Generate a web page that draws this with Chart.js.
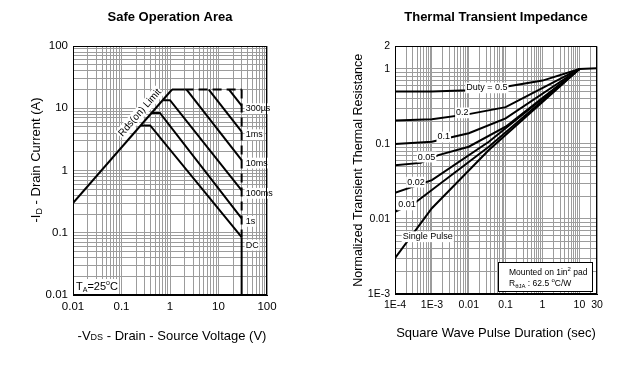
<!DOCTYPE html>
<html>
<head>
<meta charset="utf-8">
<script src="https://cdn.jsdelivr.net/npm/chart.js@4"></script>
<style>
  html, body { margin: 0; padding: 0; background: #fff; }
  #wrap { position: relative; width: 618px; height: 377px; }
  #soaChart { position: absolute; left: 0; top: 0; }
  #zthChart { position: absolute; left: 310px; top: 0; }
</style>
</head>
<body>
<div id="wrap">
  <canvas id="soaChart" width="310" height="377"></canvas>
  <canvas id="zthChart" width="308" height="377"></canvas>
</div>
<script>
// Safe operation area: [-VDS (V), -ID (A)]
const rdsLimit = [[0.01, 0.3], [1.1, 20]];
const pulseTop = [[1.1, 20], [2.0, 20]];
const pulseTopDashed = [[2.0, 20], [30, 20]];
const vdsMaxDashed = [[30, 20], [30, 0.085]];
const vdsMax = [[30, 0.085], [30, 0.01]];
const line300us = [[16.5, 20], [30, 11]];
const line1ms = [[6.3, 20], [30, 4.2]];
const line10ms = [[2.2, 20], [30, 1.47]];
const line100ms = [[0.72, 13.5], [1.0, 13.5], [30, 0.48]];
const line1s = [[0.42, 8.4], [0.62, 8.4], [30, 0.17]];
const lineDC = [[0.25, 5.3], [0.39, 5.3], [30, 0.085]];
const soaLabels = ['300µs', '1ms', '10ms', '100ms', '1s', 'DC'];
const vdsTicks = [0.01, 0.1, 1, 10, 100];
const vdsTickLabels = ['0.01', '0.1', '1', '10', '100'];
const idTicks = [0.01, 0.1, 1, 10, 100];
const idTickLabels = ['0.01', '0.1', '1', '10', '100'];

// Thermal transient impedance: [pulse duration (s), normalized Zth]
const duty05 = [[1e-4, 0.5], [1e-3, 0.5], [0.01, 0.52], [0.1, 0.58], [1, 0.7], [10, 1], [30, 1.02]];
const duty02 = [[1e-4, 0.205], [1e-3, 0.213], [0.01, 0.25], [0.1, 0.31], [10, 1]];
const duty01 = [[1e-4, 0.1], [1e-3, 0.107], [0.01, 0.139], [0.1, 0.22], [10, 1]];
const duty005 = [[1e-4, 0.052], [5e-4, 0.056], [1.5e-3, 0.071], [0.01, 0.092], [0.1, 0.17], [10, 1]];
const duty002 = [[1e-4, 0.0224], [1e-3, 0.033], [0.035, 0.107], [10, 1]];
const duty001 = [[1e-4, 0.0125], [3.8e-4, 0.017], [0.035, 0.092], [10, 1]];
const singlePulse = [[1e-4, 0.003], [1e-3, 0.0139], [0.035, 0.083], [10, 1]];
const dutyLabels = ['Duty = 0.5', '0.2', '0.1', '0.05', '0.02', '0.01', 'Single Pulse'];
const timeTicks = [1e-4, 1e-3, 0.01, 0.1, 1, 10, 30];
const timeTickLabels = ['1E-4', '1E-3', '0.01', '0.1', '1', '10', '30'];
const zthTicks = [0.001, 0.01, 0.1, 1, 2];
const zthTickLabels = ['1E-3', '0.01', '0.1', '1', '2'];

const FONT = '"Liberation Sans", Arial, Helvetica, sans-serif';
Chart.defaults.font.family = FONT;
Chart.defaults.color = '#000';

function curve(pairs, dashed) {
  return {
    data: pairs.map(([x, y]) => ({ x, y })),
    borderColor: '#000',
    borderWidth: 2,
    borderDash: dashed ? [9, 5] : [],
    pointRadius: 0,
    fill: false,
    tension: 0
  };
}

// every 1..9 x 10^n between min and max, so the grid gets all minor lines
function logGrid(min, max) {
  const out = [];
  for (let e = Math.floor(Math.log10(min)); e <= Math.ceil(Math.log10(max)); e++) {
    for (let m = 1; m < 10; m++) {
      const v = +(m * Math.pow(10, e)).toPrecision(6);
      if (v >= min * 0.999 && v <= max * 1.001) out.push({ value: v });
    }
  }
  return out;
}

function pickLabel(values, texts) {
  return (v) => {
    const i = values.findIndex(t => Math.abs(t - v) <= t * 1e-6);
    return i < 0 ? '' : texts[i];
  };
}

function logAxis(min, max, values, texts, size, title, fit) {
  return {
    type: 'logarithmic',
    min: min,
    max: max,
    afterBuildTicks: (scale) => { scale.ticks = logGrid(min, max); },
    afterFit: fit,
    ticks: {
      autoSkip: false, maxRotation: 0, minRotation: 0, padding: 5,
      font: { size: size }, color: '#000',
      callback: pickLabel(values, texts)
    },
    grid: { color: '#9c9c9c', lineWidth: 1, drawTicks: false },
    border: { display: true, color: '#000', width: 1 },
    title: title
  };
}

function tag(ctx, text, x, y, size, align) {
  ctx.save();
  ctx.font = size + 'px ' + FONT;
  const w = ctx.measureText(text).width;
  const left = align === 'left' ? x : x - w / 2;
  ctx.fillStyle = '#fff';
  ctx.fillRect(left - 1, y - size * 0.6, w + 2, size * 1.2);
  ctx.fillStyle = '#000';
  ctx.textAlign = 'left';
  ctx.textBaseline = 'middle';
  ctx.fillText(text, left, y);
  ctx.restore();
}

// text made of [string, size, baseline shift] pieces, centred on (cx, cy)
function richText(ctx, parts, cx, cy, rotation) {
  ctx.save();
  ctx.translate(cx, cy);
  ctx.rotate(rotation);
  let w = 0;
  parts.forEach(([s, size]) => { ctx.font = size + 'px ' + FONT; w += ctx.measureText(s).width; });
  let tx = -w / 2;
  ctx.fillStyle = '#000';
  ctx.textBaseline = 'alphabetic';
  parts.forEach(([s, size, shift]) => {
    ctx.font = size + 'px ' + FONT;
    ctx.fillText(s, tx, 4.5 + shift);
    tx += ctx.measureText(s).width;
  });
  ctx.restore();
}

const framePlugin = {
  id: 'frame',
  afterDraw(chart) {
    const { ctx, chartArea: a } = chart;
    ctx.save();
    ctx.strokeStyle = '#000';
    ctx.lineWidth = 1;
    ctx.strokeRect(Math.round(a.left) + 0.5, Math.round(a.top) + 0.5,
      Math.round(a.right - a.left) - 1, Math.round(a.bottom - a.top) - 1);
    ctx.restore();
  }
};

const soaNotes = {
  id: 'soaNotes',
  afterDatasetsDraw(chart) {
    const { ctx, chartArea: a, scales: { x, y } } = chart;
    const ends = [line300us, line1ms, line10ms, line100ms, line1s, lineDC];
    ends.forEach((pts, i) => {
      const [vx, vy] = pts[pts.length - 1];
      const px = x.getPixelForValue(vx) + 4;
      const py = y.getPixelForValue(vy) + (i === ends.length - 1 ? 8 : 3);
      tag(ctx, soaLabels[i], px, py, 9, 'left');
    });

    // Rds(on) label laid along the limit line
    const x0 = x.getPixelForValue(rdsLimit[0][0]), y0 = y.getPixelForValue(rdsLimit[0][1]);
    const x1 = x.getPixelForValue(rdsLimit[1][0]), y1 = y.getPixelForValue(rdsLimit[1][1]);
    const ang = Math.atan2(y1 - y0, x1 - x0);
    const cx = x.getPixelForValue(0.33);
    const cy = y0 + (cx - x0) * (y1 - y0) / (x1 - x0);
    ctx.save();
    ctx.translate(cx + Math.sin(ang) * 9, cy - Math.cos(ang) * 9);
    ctx.rotate(ang);
    tag(ctx, 'Rds(on) Limit', 0, 0, 10, 'center');
    ctx.restore();

    // TA = 25°C
    ctx.save();
    ctx.fillStyle = '#fff';
    ctx.fillRect(a.left + 1, a.bottom - 16, 44, 15);
    ctx.fillStyle = '#000';
    ctx.textBaseline = 'alphabetic';
    let tx = a.left + 3;
    const ty = a.bottom - 5;
    ctx.font = '11px ' + FONT;
    ctx.fillText('T', tx, ty); tx += ctx.measureText('T').width;
    ctx.font = '7px ' + FONT;
    ctx.fillText('A', tx, ty + 2); tx += ctx.measureText('A').width;
    ctx.font = '11px ' + FONT;
    ctx.fillText('=25', tx, ty); tx += ctx.measureText('=25').width;
    ctx.font = '7px ' + FONT;
    ctx.fillText('o', tx, ty - 5); tx += ctx.measureText('o').width;
    ctx.font = '11px ' + FONT;
    ctx.fillText('C', tx, ty);
    ctx.restore();
  },
  afterDraw(chart) {
    const { ctx, chartArea: a } = chart;
    // axis titles with subscripts
    richText(ctx, [['-V', 13, 0], ['DS', 9, 0], [' - Drain - Source Voltage (V)', 13, 0]],
      (a.left + a.right) / 2 + 2, 335, 0);
    richText(ctx, [['-I', 13, 0], ['D', 9, 2], [' - Drain Current (A)', 13, 0]],
      35, 160, -Math.PI / 2);
  }
};

const zthNotes = {
  id: 'zthNotes',
  afterDatasetsDraw(chart) {
    const { ctx, chartArea: a, scales: { x, y } } = chart;
    const at = [[0.031, 0.56], [0.0067, 0.26], [0.0021, 0.124], [7.2e-4, 0.067],
                [3.7e-4, 0.031], [2.1e-4, 0.0154], [7.7e-4, 0.0058]];
    at.forEach(([t, z], i) => {
      tag(ctx, dutyLabels[i], x.getPixelForValue(t), y.getPixelForValue(z), 9, 'center');
    });

    // mounting note box
    const bx = a.right - 99, by = a.bottom - 32, bw = 94, bh = 29;
    ctx.save();
    ctx.fillStyle = '#fff';
    ctx.fillRect(bx, by, bw, bh);
    ctx.strokeStyle = '#000';
    ctx.lineWidth = 1;
    ctx.strokeRect(Math.round(bx) + 0.5, Math.round(by) + 0.5, bw, bh);
    ctx.fillStyle = '#000';
    ctx.textBaseline = 'alphabetic';
    let tx = bx + 11;
    let ty = by + 13;
    ctx.font = '8.5px ' + FONT;
    ctx.fillText('Mounted on 1in', tx, ty); tx += ctx.measureText('Mounted on 1in').width;
    ctx.font = '6px ' + FONT;
    ctx.fillText('2', tx, ty - 4); tx += ctx.measureText('2').width;
    ctx.font = '8.5px ' + FONT;
    ctx.fillText(' pad', tx, ty);
    tx = bx + 11;
    ty = by + 24;
    ctx.fillText('R', tx, ty); tx += ctx.measureText('R').width;
    ctx.font = '6px ' + FONT;
    ctx.fillText('θJA', tx, ty + 2); tx += ctx.measureText('θJA').width;
    ctx.font = '8.5px ' + FONT;
    ctx.fillText(' : 62.5 ', tx, ty); tx += ctx.measureText(' : 62.5 ').width;
    ctx.font = '6px ' + FONT;
    ctx.fillText('o', tx, ty - 4); tx += ctx.measureText('o').width;
    ctx.font = '8.5px ' + FONT;
    ctx.fillText('C/W', tx, ty);
    ctx.restore();
  }
};

const baseOptions = {
  responsive: false,
  animation: false,
  events: []
};

new Chart(document.getElementById('soaChart'), {
  type: 'line',
  data: {
    datasets: [
      curve(rdsLimit), curve(pulseTop), curve(pulseTopDashed, true),
      curve(vdsMaxDashed, true), curve(vdsMax),
      curve(line300us), curve(line1ms), curve(line10ms),
      curve(line100ms), curve(line1s), curve(lineDC)
    ]
  },
  options: {
    ...baseOptions,
    layout: { padding: { left: 0, right: 43, top: 0, bottom: 0 } },
    plugins: {
      legend: { display: false },
      tooltip: { enabled: false },
      title: {
        display: true, text: 'Safe Operation Area', color: '#000', fullSize: false,
        font: { size: 13, weight: 'bold' }, padding: { top: 10, bottom: 20.4 }
      }
    },
    scales: {
      x: logAxis(0.01, 100, vdsTicks, vdsTickLabels, 11.5, { display: false },
        (s) => { s.height = 82; }),
      y: logAxis(0.01, 100, idTicks, idTickLabels, 11.5, { display: false },
        (s) => { s.width = 73; })
    }
  },
  plugins: [soaNotes, framePlugin]
});

new Chart(document.getElementById('zthChart'), {
  type: 'line',
  data: {
    datasets: [
      curve(duty05), curve(duty02), curve(duty01), curve(duty005),
      curve(duty002), curve(duty001), curve(singlePulse)
    ]
  },
  options: {
    ...baseOptions,
    layout: { padding: { left: 0, right: 21, top: 0, bottom: 0 } },
    plugins: {
      legend: { display: false },
      tooltip: { enabled: false },
      title: {
        display: true, text: 'Thermal Transient Impedance', color: '#000', fullSize: false,
        font: { size: 13, weight: 'bold' }, padding: { top: 10, bottom: 20.8 }
      }
    },
    scales: {
      x: logAxis(1e-4, 30, timeTicks, timeTickLabels, 10.5,
        { display: true, text: 'Square Wave Pulse Duration (sec)', font: { size: 13 },
          color: '#000', padding: { top: 0, bottom: 36 } },
        (s) => { s.height = 83; }),
      y: logAxis(0.001, 2, zthTicks, zthTickLabels, 10.5,
        { display: true, text: 'Normalized Transient Thermal Resistance', font: { size: 12.5 },
          color: '#000', padding: { top: 41, bottom: 0 } },
        (s) => { s.width = 85; })
    }
  },
  plugins: [zthNotes, framePlugin]
});
</script>
</body>
</html>
